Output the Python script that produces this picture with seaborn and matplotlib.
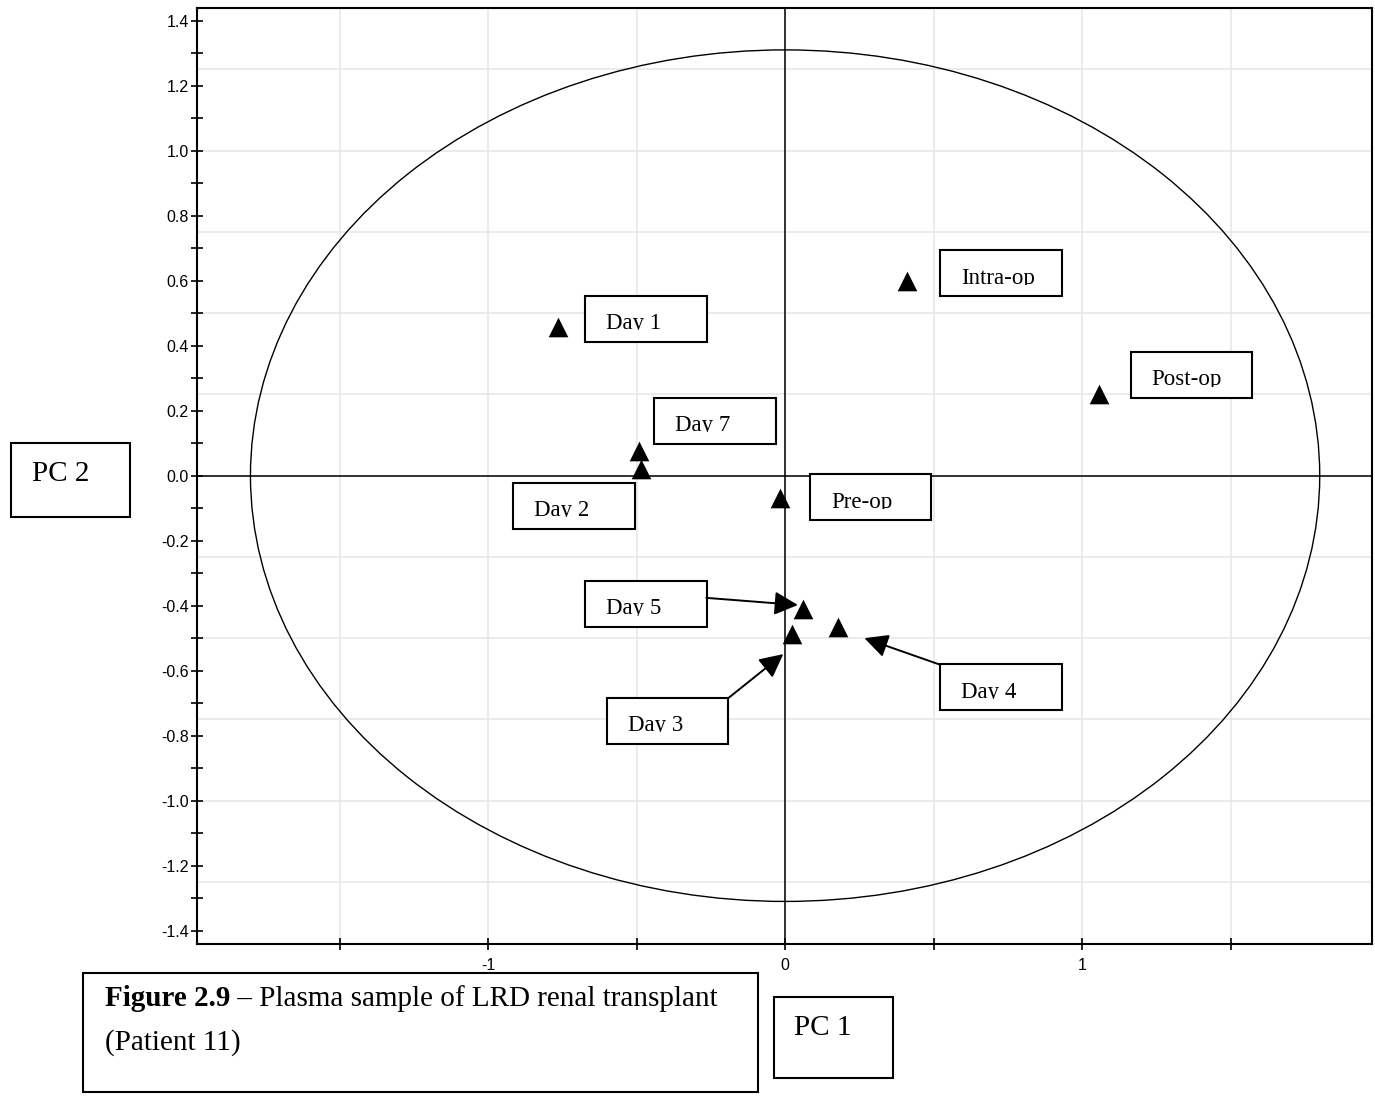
import numpy as np
import pandas as pd
import matplotlib
matplotlib.use('Agg')
import matplotlib.pyplot as plt
import seaborn as sns
from matplotlib.patches import Ellipse, Rectangle

# PCA scores per plasma sample
samples = ['Intra-op', 'Post-op', 'Day 1', 'Day 7', 'Day 2', 'Pre-op', 'Day 5', 'Day 3', 'Day 4']
pc1 = [0.411, 1.057, -0.764, -0.492, -0.485, -0.017, 0.061, 0.024, 0.178]
pc2 = [0.598, 0.251, 0.456, 0.076, 0.022, -0.069, -0.410, -0.487, -0.467]

# Hotelling T2 ellipse half axes
ellipse_pc1 = 1.80
ellipse_pc2 = 1.31

x_ticks = [-1.5, -1, -0.5, 0, 0.5, 1, 1.5]
x_ticklabels = ['', '-1', '', '0', '', '1', '']
y_ticks = [-1.4, -1.2, -1.0, -0.8, -0.6, -0.4, -0.2, 0.0, 0.2, 0.4, 0.6, 0.8, 1.0, 1.2, 1.4]
y_ticklabels = ['-1.4', '-1.2', '-1.0', '-0.8', '-0.6', '-0.4', '-0.2', '0.0',
                '0.2', '0.4', '0.6', '0.8', '1.0', '1.2', '1.4']
y_minor = [-1.3, -1.1, -0.9, -0.7, -0.5, -0.3, -0.1, 0.1, 0.3, 0.5, 0.7, 0.9, 1.1, 1.3]

# label boxes (lower-left corner, data units) and leader arrows
box_pos = {'Intra-op': (0.523, 0.552), 'Post-op': (1.163, 0.239), 'Day 1': (-0.672, 0.412),
           'Day 7': (-0.440, 0.098), 'Day 2': (-0.915, -0.163), 'Pre-op': (0.084, -0.137),
           'Day 5': (-0.672, -0.466), 'Day 3': (-0.599, -0.825), 'Day 4': (0.523, -0.722)}
box_w, box_h = 0.408, 0.1415
arrows = {'Day 5': ((-0.265, -0.376), (0.043, -0.398)),
          'Day 3': ((-0.192, -0.685), (-0.006, -0.549)),
          'Day 4': ((0.523, -0.582), (0.267, -0.500))}

df = pd.DataFrame({'sample': samples, 'PC1': pc1, 'PC2': pc2})

sns.set_style('white')
plt.rcParams['font.family'] = ['Liberation Sans', 'DejaVu Sans']
plt.rcParams['axes.unicode_minus'] = False
plt.rcParams['text.color'] = 'black'

W, H = 1375, 1096
fig = plt.figure(figsize=(W / 100, H / 100), dpi=100)
ax = fig.add_axes([197 / W, 1 - 944 / H, (1372 - 197) / W, (944 - 8.3) / H])

# grid: 0.5 steps on PC1, 0.25 steps on PC2
for gx in np.arange(-1.5, 2.0, 0.5):
    ax.axvline(gx, color='#e6e6e6', lw=1.1, zorder=0)
for gy in np.arange(-1.25, 1.5, 0.25):
    ax.axhline(gy, color='#e6e6e6', lw=1.1, zorder=0)

ax.axhline(0, color='black', lw=1.1, zorder=1)
ax.axvline(0, color='black', lw=1.1, zorder=1)
ax.add_patch(Ellipse((0, 0), 2 * ellipse_pc1, 2 * ellipse_pc2, fill=False,
                     edgecolor='black', lw=1.0, zorder=2))

sns.scatterplot(data=df, x='PC1', y='PC2', marker='^', s=200, color='black',
                edgecolor='black', linewidth=0, ax=ax, zorder=3, legend=False)

serif = ['Liberation Serif', 'DejaVu Serif']
for name, (bx, by) in box_pos.items():
    ax.add_patch(Rectangle((bx, by), box_w, box_h, facecolor='white',
                           edgecolor='none', zorder=4))
    ax.text(bx + 0.0707, by + 0.039, name, family=serif, fontsize=16.5,
            color='black', va='baseline', ha='left', zorder=5)
    # the original boxes cut the text just under the baseline
    ax.add_patch(Rectangle((bx, by), box_w, 0.035, facecolor='white',
                           edgecolor='none', zorder=5.5))
    ax.add_patch(Rectangle((bx, by), box_w, box_h, fill=False,
                           edgecolor='black', lw=1.5, zorder=6))

for name, (start, tip) in arrows.items():
    ax.annotate('', xy=tip, xytext=start,
                arrowprops=dict(arrowstyle='-|>,head_length=0.4,head_width=0.2',
                                mutation_scale=36, color='black', lw=1.4,
                                shrinkA=0, shrinkB=0), zorder=7)

ax.set_xlim(-1.980, 1.976)
ax.set_ylim(-1.441, 1.438)
ax.set_xticks(x_ticks)
ax.set_xticklabels(x_ticklabels)
ax.set_yticks(y_ticks)
ax.set_yticklabels(y_ticklabels)
ax.set_yticks(y_minor, minor=True)
ax.tick_params(axis='both', which='both', direction='inout', length=8, width=1.2,
               labelsize=11.5, color='black', labelcolor='black',
               bottom=True, left=True, top=False, right=False)
ax.tick_params(axis='x', pad=6)
ax.tick_params(axis='y', pad=2)
ax.set_xlabel('')
ax.set_ylabel('')
for side in ['left', 'bottom', 'top', 'right']:
    ax.spines[side].set_visible(True)
    ax.spines[side].set_color('black')
    ax.spines[side].set_linewidth(1.5)

# axis title boxes and figure caption
def fig_box(x0, y0, x1, y1):
    fig.add_artist(Rectangle((x0 / W, 1 - y1 / H), (x1 - x0) / W, (y1 - y0) / H,
                             transform=fig.transFigure, fill=False,
                             edgecolor='black', lw=1.5))

fig_box(10.7, 443.3, 130, 516.7)
fig.text(31.7 / W, 1 - 481 / H, 'PC 2', family=serif, fontsize=21, va='baseline')
fig_box(774, 997, 893, 1078)
fig.text(794 / W, 1 - 1035 / H, 'PC 1', family=serif, fontsize=21, va='baseline')
fig_box(83, 973, 758, 1092)
t1 = fig.text(105 / W, 1 - 1012 / H, 'Figure 2.9', family=serif, fontsize=21,
              weight='bold', va='bottom')
fig.canvas.draw()
fig.text(105 / W, 1 - 1050 / H, '(Patient 11)', family=serif, fontsize=21, va='baseline')
ax.annotate(' – Plasma sample of LRD renal transplant', xy=(1, 0), xycoords=t1,
            family=serif, fontsize=21, color='black', va='bottom', ha='left',
            annotation_clip=False)

fig.savefig('out.png', dpi=100)
